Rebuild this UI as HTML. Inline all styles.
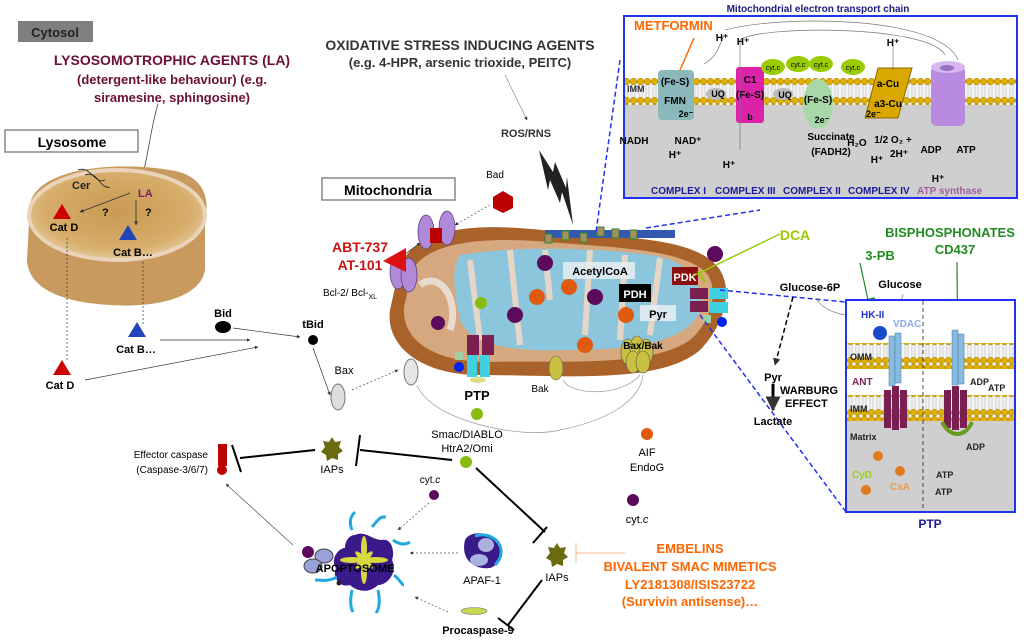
<!DOCTYPE html>
<html><head><meta charset="utf-8"><style>
html,body{margin:0;padding:0;background:#fff;}
svg{display:block;font-family:"Liberation Sans",Arial,sans-serif;}
.b{font-weight:bold;}
</style></head><body>
<svg width="1024" height="640" viewBox="0 0 1024 640" xmlns="http://www.w3.org/2000/svg">
<defs>
<pattern id="lip" x="0" y="0" width="7" height="26" patternUnits="userSpaceOnUse">
<rect width="7" height="26" fill="#f4f4f4"/>
<line x1="2" y1="4" x2="2" y2="22" stroke="#bbb" stroke-width="0.6"/>
<line x1="5" y1="4" x2="5" y2="22" stroke="#bbb" stroke-width="0.6"/>
<circle cx="3.5" cy="3.5" r="3.3" fill="#e0b000" stroke="#a07800" stroke-width="0.5"/>
<circle cx="3.5" cy="22.5" r="3.3" fill="#e0b000" stroke="#a07800" stroke-width="0.5"/>
</pattern>
<radialGradient id="lyso" cx="0.5" cy="0.45" r="0.6"><stop offset="0" stop-color="#c99a52"/><stop offset="0.7" stop-color="#d7ad6a"/><stop offset="1" stop-color="#e8d2a8"/></radialGradient>
<marker id="ar" viewBox="0 0 10 10" refX="9" refY="5" markerWidth="5" markerHeight="5" orient="auto"><path d="M0,0L10,5L0,10z" fill="#333"/></marker>
</defs>

<!-- Cytosol -->
<rect x="18" y="21" width="75" height="21" fill="#7f7f7f"/>
<text x="55" y="37" font-size="13" class="b" fill="#222" text-anchor="middle">Cytosol</text>
<g fill="#6b0f35" class="b" font-size="14" text-anchor="middle">
<text x="172" y="65">LYSOSOMOTROPHIC AGENTS (LA)</text>
<text x="172" y="84" font-size="13">(detergent-like behaviour) (e.g.</text>
<text x="172" y="102" font-size="13">siramesine, sphingosine)</text>
</g>
<path d="M158,104 C150,130 148,160 140,185" stroke="#444" fill="none" stroke-width="0.8" marker-end="url(#ar)"/>

<!-- Lysosome -->
<rect x="5" y="130" width="133" height="22" fill="#fff" stroke="#888" stroke-width="1.5"/>
<text x="72" y="147" font-size="14" class="b" text-anchor="middle">Lysosome</text>
<path d="M30,205 C35,170 110,160 170,170 C205,175 210,200 205,220 L205,270 C200,300 150,308 110,305 C55,302 28,285 27,260 Z" fill="#c89a5e"/>
<ellipse cx="117" cy="215" rx="88" ry="45" fill="url(#lyso)" stroke="#e9d3bb" stroke-width="4"/>
<path d="M78,170 C90,165 95,185 105,180" stroke="#222" fill="none" stroke-width="0.8"/>
<path d="M85,175 C98,170 100,190 110,187" stroke="#222" fill="none" stroke-width="0.8"/>
<text x="72" y="189" font-size="11" class="b" fill="#222">Cer</text>
<text x="138" y="197" font-size="11" class="b" fill="#7b1f6a">LA</text>
<text x="102" y="216" font-size="11" class="b">?</text>
<text x="145" y="216" font-size="11" class="b">?</text>
<line x1="130" y1="193" x2="80" y2="212" stroke="#333" stroke-width="0.8" marker-end="url(#ar)"/>
<line x1="136" y1="200" x2="136" y2="225" stroke="#333" stroke-width="0.8" marker-end="url(#ar)"/>
<polygon points="62,204 53,219 71,219" fill="#cc0000"/>
<text x="64" y="231" font-size="11" class="b" text-anchor="middle">Cat D</text>
<polygon points="128,225 119,240 137,240" fill="#2244bb"/>
<text x="133" y="256" font-size="11" class="b" text-anchor="middle">Cat B…</text>
<line x1="67" y1="238" x2="67" y2="360" stroke="#444" stroke-dasharray="2,2" stroke-width="0.8"/>
<line x1="143" y1="262" x2="143" y2="325" stroke="#444" stroke-dasharray="2,2" stroke-width="0.8"/>
<polygon points="137,322 128,337 146,337" fill="#2244bb"/>
<text x="136" y="353" font-size="11" class="b" text-anchor="middle">Cat B…</text>
<polygon points="62,360 53,375 71,375" fill="#cc0000"/>
<text x="60" y="389" font-size="11" class="b" text-anchor="middle">Cat D</text>
<line x1="160" y1="340" x2="250" y2="340" stroke="#333" stroke-width="0.7" marker-end="url(#ar)"/>
<line x1="85" y1="380" x2="258" y2="347" stroke="#333" stroke-width="0.7" marker-end="url(#ar)"/>
<ellipse cx="223" cy="327" rx="8" ry="6" fill="#000"/>
<text x="223" y="317" font-size="11" class="b" text-anchor="middle">Bid</text>
<line x1="233" y1="328" x2="300" y2="337" stroke="#333" stroke-width="0.7" marker-end="url(#ar)"/>
<circle cx="313" cy="340" r="5" fill="#000"/>
<text x="313" y="328" font-size="11" class="b" text-anchor="middle">tBid</text>
<line x1="313" y1="348" x2="330" y2="395" stroke="#333" stroke-width="0.7" marker-end="url(#ar)"/>
<text x="344" y="374" font-size="11" text-anchor="middle">Bax</text>
<ellipse cx="338" cy="397" rx="7" ry="13" fill="#ddd" stroke="#777"/>
<line x1="352" y1="390" x2="398" y2="370" stroke="#444" stroke-dasharray="2,2" stroke-width="0.7" marker-end="url(#ar)"/>

<!-- Oxidative stress -->
<text x="460" y="50" font-size="14" class="b" fill="#333" text-anchor="middle">OXIDATIVE STRESS  INDUCING AGENTS</text>
<text x="460" y="67" font-size="13" class="b" fill="#333" text-anchor="middle">(e.g. 4-HPR, arsenic trioxide, PEITC)</text>
<line x1="505" y1="75" x2="527" y2="120" stroke="#888" stroke-width="0.7" marker-end="url(#ar)"/>
<text x="526" y="137" font-size="11" class="b" fill="#333" text-anchor="middle">ROS/RNS</text>
<polygon points="539,150 553,172 555,162 566,188 567,177 573,225 562,192 560,203 550,180 548,190" fill="#222"/>

<!-- Mitochondria -->
<rect x="322" y="178" width="133" height="22" fill="#fff" stroke="#888" stroke-width="1.5"/>
<text x="388" y="195" font-size="14" class="b" text-anchor="middle">Mitochondria</text>
<text x="495" y="178" font-size="10" text-anchor="middle">Bad</text>
<polygon points="493,197 503,191 513,197 513,208 503,213 493,208" fill="#bb0000"/>
<line x1="490" y1="205" x2="455" y2="225" stroke="#555" stroke-dasharray="2,2" stroke-width="0.7" marker-end="url(#ar)"/>
<path d="M400,265 C420,225 480,222 560,232 C640,238 700,240 720,270 C735,295 720,330 700,350 C660,385 560,375 480,375 C420,375 385,345 390,310 Z" fill="#a9622a"/>
<path d="M412,270 C430,240 490,236 560,243 C630,248 690,252 708,275 C720,295 708,325 690,340 C650,368 560,360 490,362 C430,362 402,338 404,308 Z" fill="#d6a880"/>
<path d="M460,255 C520,245 600,248 650,255 C690,260 705,285 700,310 C690,340 640,350 570,350 C510,352 470,345 460,320 C455,295 450,270 460,255 Z" fill="#8cc6dc"/>
<path d="M470,260 L480,340 M510,250 L520,345 M545,250 L550,300 M590,250 L585,335 M625,255 L620,340 M660,258 L650,335" stroke="#e6d6c6" stroke-width="6" fill="none"/>
<path d="M420,285 C440,270 460,300 450,330" stroke="#e9dccf" stroke-width="7" fill="none"/>
<rect x="545" y="230" width="130" height="8" fill="#3358b0"/>
<g fill="#aa8c60" stroke="#2a8a2a"><rect x="545" y="234" width="7" height="9"/><rect x="562" y="231" width="7" height="9"/><rect x="580" y="233" width="7" height="9"/><rect x="597" y="227" width="7" height="9"/><rect x="612" y="229" width="7" height="9"/><rect x="630" y="230" width="7" height="9"/></g>
<g><circle cx="545" cy="263" r="8" fill="#5c0a5c"/><circle cx="515" cy="315" r="8" fill="#5c0a5c"/><circle cx="595" cy="297" r="8" fill="#5c0a5c"/><circle cx="438" cy="323" r="7" fill="#5c0a5c"/><circle cx="715" cy="254" r="8" fill="#5c0a5c"/>
<circle cx="537" cy="297" r="8" fill="#e05a10"/><circle cx="569" cy="287" r="8" fill="#e05a10"/><circle cx="626" cy="315" r="8" fill="#e05a10"/><circle cx="585" cy="345" r="8" fill="#e05a10"/>
<circle cx="481" cy="303" r="6" fill="#88bb10"/></g>
<rect x="563" y="262" width="72" height="17" fill="#e8eef2" opacity="0.85"/>
<text x="600" y="275" font-size="11" class="b" text-anchor="middle">AcetylCoA</text>
<rect x="619" y="284" width="32" height="18" fill="#000"/>
<text x="635" y="298" font-size="11" class="b" fill="#fff" text-anchor="middle">PDH</text>
<rect x="640" y="305" width="36" height="16" fill="#e8eef2" opacity="0.85"/>
<text x="658" y="318" font-size="11" class="b" text-anchor="middle">Pyr</text>
<rect x="672" y="267" width="26" height="18" fill="#8b0f0f"/>
<text x="685" y="281" font-size="11" class="b" fill="#fff" text-anchor="middle">PDK</text>
<line x1="693" y1="276" x2="780" y2="234" stroke="#9c0" stroke-width="1.5"/>
<line x1="698" y1="271" x2="705" y2="282" stroke="#9c0" stroke-width="2"/>
<text x="795" y="240" font-size="14" class="b" fill="#99cc00" text-anchor="middle">DCA</text>
<g><rect x="690" y="288" width="18" height="11" fill="#7a2050"/><rect x="690" y="301" width="18" height="11" fill="#7a2050"/><rect x="710" y="288" width="18" height="11" fill="#40d0e0"/><rect x="710" y="302" width="18" height="11" fill="#40d0e0"/><circle cx="722" cy="322" r="5" fill="#0022ee"/><rect x="703" y="315" width="8" height="8" fill="#9fd0a0"/></g>
<g><rect x="467" y="335" width="12" height="20" fill="#7a2050"/><rect x="482" y="335" width="12" height="20" fill="#7a2050"/><rect x="467" y="355" width="10" height="22" fill="#40d0e0"/><rect x="480" y="355" width="10" height="22" fill="#40d0e0"/><circle cx="459" cy="367" r="5" fill="#0022ee"/><rect x="455" y="352" width="8" height="8" fill="#9fd0a0"/><ellipse cx="478" cy="380" rx="8" ry="3" fill="#dd8"/></g>
<text x="477" y="400" font-size="13" class="b" text-anchor="middle">PTP</text>
<ellipse cx="556" cy="368" rx="7" ry="12" fill="#c9c040" stroke="#666" stroke-width="0.6"/>
<text x="540" y="392" font-size="10" text-anchor="middle">Bak</text>
<g fill="#c9c040" stroke="#555" stroke-width="0.6"><ellipse cx="628" cy="352" rx="7" ry="13"/><ellipse cx="637" cy="350" rx="7" ry="14"/><ellipse cx="646" cy="352" rx="7" ry="13"/><ellipse cx="633" cy="362" rx="7" ry="11"/><ellipse cx="643" cy="362" rx="7" ry="11"/></g>
<text x="643" y="349" font-size="10" class="b" text-anchor="middle">Bax/Bak</text>
<ellipse cx="411" cy="372" rx="7" ry="13" fill="#e6e6e6" stroke="#777"/>
<path d="M417,385 C430,420 520,440 560,430 C610,420 640,400 643,375" stroke="#999" fill="none" stroke-width="0.7"/>
<path d="M563,380 C570,395 620,398 640,375" stroke="#999" fill="none" stroke-width="0.7"/>
<!-- Bcl-2 -->
<g fill="#b08ad8" stroke="#553377" stroke-width="0.7"><ellipse cx="426" cy="232" rx="8" ry="17"/><ellipse cx="447" cy="228" rx="8" ry="17"/><ellipse cx="398" cy="272" rx="8" ry="17"/><ellipse cx="409" cy="275" rx="8" ry="17"/></g>
<rect x="430" y="228" width="12" height="15" fill="#bb0000"/>
<polygon points="383,261 406,248 406,272" fill="#dd1111"/>
<line x1="405" y1="254" x2="420" y2="243" stroke="#333" stroke-width="0.7" marker-end="url(#ar)"/>
<text x="360" y="252" font-size="14" class="b" fill="#cc1111" text-anchor="middle">ABT-737</text>
<text x="360" y="270" font-size="14" class="b" fill="#cc1111" text-anchor="middle">AT-101</text>
<text x="350" y="296" font-size="10" text-anchor="middle">Bcl-2/ Bcl-<tspan font-size="7" dy="3">XL</tspan></text>

<!-- ETC box -->
<text x="818" y="12" font-size="10" class="b" fill="#1a1a80" text-anchor="middle">Mitochondrial electron transport chain</text>
<rect x="624" y="16" width="393" height="182" fill="#fff" stroke="#2233ee" stroke-width="2"/>
<rect x="625" y="95" width="391" height="102" fill="#cfcfcf"/>
<rect x="625" y="78" width="391" height="27" fill="url(#lip)"/>
<text x="627" y="92" font-size="9" class="b" fill="#333">IMM</text>
<text x="634" y="30" font-size="13" class="b" fill="#ff6600">METFORMIN</text>
<line x1="694" y1="38" x2="677" y2="77" stroke="#ff6600" stroke-width="1.5"/>
<line x1="670" y1="77" x2="684" y2="77" stroke="#ff6600" stroke-width="2"/>
<rect x="658" y="70" width="36" height="50" rx="4" fill="#8bb8bb"/>
<text x="675" y="85" font-size="10" class="b" text-anchor="middle">(Fe-S)</text>
<text x="675" y="104" font-size="10" class="b" text-anchor="middle">FMN</text>
<text x="686" y="117" font-size="9" class="b" text-anchor="middle">2e⁻</text>
<rect x="736" y="67" width="28" height="56" rx="3" fill="#dd22aa"/>
<text x="750" y="83" font-size="10" class="b" text-anchor="middle">C1</text>
<text x="750" y="98" font-size="10" class="b" text-anchor="middle">(Fe-S)</text>
<text x="750" y="120" font-size="9" class="b" text-anchor="middle">b</text>
<ellipse cx="716" cy="94" rx="10" ry="6" fill="#bbb"/><text x="718" y="97" font-size="9" class="b" text-anchor="middle">UQ</text>
<ellipse cx="783" cy="94" rx="10" ry="6" fill="#bbb"/><text x="785" y="98" font-size="9" class="b" text-anchor="middle">UQ</text>
<ellipse cx="818" cy="104" rx="15" ry="25" fill="#a8d8a8"/>
<text x="818" y="103" font-size="10" class="b" text-anchor="middle">(Fe-S)</text>
<text x="822" y="123" font-size="9" class="b" text-anchor="middle">2e⁻</text>
<g fill="#99cc00"><ellipse cx="773" cy="67" rx="12" ry="8"/><ellipse cx="798" cy="64" rx="12" ry="8"/><ellipse cx="821" cy="64" rx="12" ry="8"/><ellipse cx="853" cy="67" rx="12" ry="8"/></g>
<g font-size="7" text-anchor="middle"><text x="773" y="70">cyt.c</text><text x="798" y="67">cyt.c</text><text x="821" y="67">cyt.c</text><text x="853" y="70">cyt.c</text></g>
<polygon points="878,68 912,68 898,118 865,118" fill="#d8a800" stroke="#8a6a00"/>
<text x="888" y="87" font-size="10" class="b" text-anchor="middle">a-Cu</text>
<text x="888" y="107" font-size="10" class="b" text-anchor="middle">a3-Cu</text>
<text x="866" y="117" font-size="9" class="b">2e⁻</text>
<rect x="931" y="66" width="34" height="60" rx="5" fill="#b98be0"/>
<ellipse cx="948" cy="67" rx="17" ry="6" fill="#d6b8f0"/>
<ellipse cx="947" cy="68" rx="7" ry="3" fill="#9a70c0"/>
<path d="M704,64 C720,55 720,40 724,36 M740,150 L740,40 C760,25 930,25 945,55 M725,30 C780,15 940,15 958,60 M893,45 L893,70" stroke="#777" fill="none" stroke-width="0.7"/>
<g font-size="10" class="b" text-anchor="middle"><text x="722" y="41">H⁺</text><text x="743" y="45">H⁺</text><text x="893" y="46">H⁺</text>
<text x="634" y="144">NADH</text><text x="688" y="144">NAD⁺</text><text x="675" y="158">H⁺</text><text x="729" y="168">H⁺</text>
<text x="831" y="140">Succinate</text><text x="831" y="155">(FADH2)</text><text x="857" y="146">H₂O</text><text x="893" y="143">1/2 O₂ +</text><text x="899" y="157">2H⁺</text><text x="877" y="163">H⁺</text>
<text x="931" y="153">ADP</text><text x="966" y="153">ATP</text><text x="938" y="182">H⁺</text></g>
<g font-size="10" class="b" fill="#1a1a99"><text x="651" y="194">COMPLEX I</text><text x="715" y="194">COMPLEX III</text><text x="783" y="194">COMPLEX II</text><text x="848" y="194">COMPLEX IV</text><text x="917" y="194" fill="#a060a0">ATP synthase</text></g>
<!-- zoom lines -->
<line x1="620" y1="60" x2="596" y2="232" stroke="#2233ee" stroke-dasharray="5,3" stroke-width="1.5"/>
<line x1="646" y1="228" x2="760" y2="210" stroke="#2233ee" stroke-dasharray="5,3" stroke-width="1.5"/>
<line x1="720" y1="290" x2="846" y2="302" stroke="#2233ee" stroke-dasharray="5,3" stroke-width="1.5"/>
<line x1="700" y1="315" x2="846" y2="512" stroke="#2233ee" stroke-dasharray="5,3" stroke-width="1.5"/>

<!-- right side -->
<text x="950" y="237" font-size="13" class="b" fill="#228b22" text-anchor="middle">BISPHOSPHONATES</text>
<text x="955" y="254" font-size="13" class="b" fill="#228b22" text-anchor="middle">CD437</text>
<text x="880" y="260" font-size="13" class="b" fill="#228b22" text-anchor="middle">3-PB</text>
<line x1="860" y1="263" x2="868" y2="300" stroke="#228b22" stroke-width="1.2"/>
<line x1="861" y1="301" x2="875" y2="298" stroke="#228b22" stroke-width="1.5"/>
<line x1="957" y1="262" x2="958" y2="382" stroke="#228b22" stroke-width="1.2"/>
<text x="810" y="291" font-size="11" class="b" text-anchor="middle">Glucose-6P</text>
<text x="900" y="288" font-size="11" class="b" text-anchor="middle">Glucose</text>
<path d="M816,298 C830,325 900,320 903,294" stroke="#777" fill="none" stroke-width="0.7"/>
<line x1="793" y1="297" x2="775" y2="365" stroke="#000" stroke-dasharray="5,3" stroke-width="1.5" marker-end="url(#ar)"/>
<text x="773" y="381" font-size="11" class="b" text-anchor="middle">Pyr</text>
<line x1="773" y1="384" x2="773" y2="410" stroke="#000" stroke-width="3" marker-end="url(#ar)"/>
<text x="780" y="394" font-size="11" class="b">WARBURG</text>
<text x="785" y="407" font-size="11" class="b">EFFECT</text>
<text x="773" y="425" font-size="11" class="b" text-anchor="middle">Lactate</text>
<!-- PTP box -->
<rect x="846" y="300" width="169" height="212" fill="#fff" stroke="#2233ee" stroke-width="2"/>
<rect x="847" y="420" width="167" height="91" fill="#cfcfcf"/>
<rect x="847" y="343" width="167" height="26" fill="url(#lip)"/>
<rect x="847" y="395" width="167" height="26" fill="url(#lip)"/>
<line x1="923" y1="301" x2="923" y2="511" stroke="#222" stroke-dasharray="4,3" stroke-width="0.8"/>
<text x="861" y="318" font-size="10" class="b" fill="#2233cc">HK-II</text>
<text x="893" y="327" font-size="10" class="b" fill="#88aaee">VDAC</text>
<circle cx="880" cy="333" r="7" fill="#1a4acc"/>
<g fill="#88bbe0" stroke="#4a7aa0" stroke-width="0.5"><rect x="889" y="336" width="6" height="50"/><rect x="895" y="333" width="6" height="50"/><rect x="952" y="330" width="6" height="55"/><rect x="958" y="334" width="6" height="50"/></g>
<g fill="#7a2050"><rect x="884" y="390" width="7" height="38"/><rect x="892" y="386" width="7" height="44"/><rect x="900" y="390" width="7" height="38"/><rect x="944" y="390" width="7" height="38"/><rect x="952" y="386" width="7" height="44"/><rect x="960" y="390" width="7" height="38"/></g>
<path d="M942,422 C950,438 965,438 972,422" stroke="#6a9a20" stroke-width="4" fill="none"/>
<g font-size="9" class="b" fill="#222"><text x="850" y="360">OMM</text><text x="850" y="412">IMM</text><text x="850" y="440">Matrix</text>
<text x="970" y="385">ADP</text><text x="988" y="391">ATP</text><text x="966" y="450">ADP</text><text x="936" y="478">ATP</text><text x="935" y="495">ATP</text></g>
<text x="852" y="385" font-size="10" class="b" fill="#7a2050">ANT</text>
<text x="852" y="478" font-size="10" class="b" fill="#99cc22">CyD</text>
<text x="890" y="490" font-size="10" class="b" fill="#ee9944">CsA</text>
<g fill="#e07a20"><circle cx="878" cy="456" r="5"/><circle cx="900" cy="471" r="5"/><circle cx="866" cy="490" r="5"/></g>
<text x="930" y="528" font-size="12" class="b" fill="#1a1a99" text-anchor="middle">PTP</text>

<!-- bottom -->
<circle cx="647" cy="434" r="6" fill="#e05a10"/>
<text x="647" y="456" font-size="11" text-anchor="middle">AIF</text>
<text x="647" y="471" font-size="11" text-anchor="middle">EndoG</text>
<circle cx="633" cy="500" r="6" fill="#5c0a5c"/>
<text x="637" y="523" font-size="11" text-anchor="middle">cyt.<tspan font-style="italic">c</tspan></text>
<circle cx="477" cy="414" r="6" fill="#88bb10"/>
<text x="467" y="438" font-size="11" text-anchor="middle">Smac/DIABLO</text>
<text x="467" y="452" font-size="11" text-anchor="middle">HtrA2/Omi</text>
<circle cx="466" cy="462" r="6" fill="#88bb10"/>
<line x1="452" y1="460" x2="360" y2="450" stroke="#000" stroke-width="2"/>
<line x1="360" y1="435" x2="356" y2="466" stroke="#000" stroke-width="2"/>
<polygon points="332,437 335,442 341,441 339,447 343,451 338,454 338,460 332,458 327,461 326,455 321,452 325,447 323,441 329,442" fill="#6b6b10"/>
<text x="332" y="473" font-size="11" text-anchor="middle">IAPs</text>
<line x1="315" y1="450" x2="240" y2="458" stroke="#000" stroke-width="2"/>
<line x1="232" y1="445" x2="241" y2="472" stroke="#000" stroke-width="2"/>
<rect x="218" y="444" width="9" height="22" fill="#bb0000"/><circle cx="222" cy="470" r="5" fill="#bb0000"/>
<text x="208" y="458" font-size="10" text-anchor="end">Effector caspase</text>
<text x="208" y="473" font-size="10" text-anchor="end">(Caspase-3/6/7)</text>
<line x1="293" y1="545" x2="226" y2="484" stroke="#555" stroke-width="0.7" marker-end="url(#ar)"/>
<line x1="476" y1="468" x2="545" y2="532" stroke="#000" stroke-width="2"/>
<line x1="533" y1="543" x2="547" y2="527" stroke="#000" stroke-width="2"/>
<circle cx="434" cy="495" r="5" fill="#5c0a5c"/>
<text x="430" y="483" font-size="10" text-anchor="middle">cyt.<tspan font-style="italic">c</tspan></text>
<line x1="429" y1="503" x2="398" y2="530" stroke="#555" stroke-dasharray="2,2" stroke-width="0.7" marker-end="url(#ar)"/>
<!-- apoptosome -->
<path d="M355,535 C365,530 372,540 382,540 C392,538 395,552 392,560 C398,572 388,585 378,585 C368,595 355,590 350,585 C340,588 332,578 336,568 C330,560 338,548 345,548 C345,540 350,535 355,535 Z" fill="#3a1a8a"/>
<g fill="#d8d840"><ellipse cx="364" cy="548" rx="3" ry="12"/><ellipse cx="364" cy="572" rx="3" ry="12"/><ellipse cx="352" cy="560" rx="12" ry="3"/><ellipse cx="376" cy="560" rx="12" ry="3"/><ellipse cx="364" cy="560" rx="3" ry="12" transform="rotate(45 364 560)"/><ellipse cx="364" cy="560" rx="3" ry="12" transform="rotate(-45 364 560)"/></g>
<g stroke="#22a8e0" stroke-width="3" fill="none"><path d="M352,530 C348,520 352,515 355,512"/><path d="M372,527 C378,520 380,516 386,517"/><path d="M393,540 C400,545 405,545 410,542"/><path d="M394,575 C400,580 402,585 404,585"/><path d="M378,590 C380,600 380,608 376,613"/><path d="M352,590 C350,600 350,607 353,612"/><path d="M337,577 C328,582 320,580 315,580"/></g>
<circle cx="308" cy="552" r="6" fill="#5c0a5c"/>
<ellipse cx="324" cy="556" rx="9" ry="7" fill="#9aa0d8" stroke="#444"/>
<ellipse cx="313" cy="566" rx="9" ry="7" fill="#9aa0d8" stroke="#444"/>
<circle cx="339" cy="583" r="2.5" fill="#222"/>
<text x="355" y="572" font-size="11" class="b" text-anchor="middle">APOPTOSOME</text>
<line x1="458" y1="553" x2="410" y2="553" stroke="#555" stroke-dasharray="2,2" stroke-width="0.7" marker-end="url(#ar)"/>
<path d="M465,540 C470,530 490,532 497,540 C505,552 500,565 490,568 C475,570 460,560 465,540 Z" fill="#3a1a8a"/>
<path d="M475,536 C495,530 510,550 495,565" stroke="#22a8e0" stroke-width="3" fill="none"/>
<ellipse cx="486" cy="545" rx="8" ry="7" fill="#aab0e0"/><ellipse cx="479" cy="560" rx="9" ry="6" fill="#aab0e0"/>
<text x="482" y="584" font-size="11" text-anchor="middle">APAF-1</text>
<line x1="448" y1="612" x2="415" y2="597" stroke="#555" stroke-dasharray="2,2" stroke-width="0.7" marker-end="url(#ar)"/>
<ellipse cx="474" cy="611" rx="13" ry="3.5" fill="#c8d850" stroke="#777" stroke-width="0.6"/>
<text x="478" y="634" font-size="11" class="b" text-anchor="middle">Procaspase-9</text>
<polygon points="557,543 560,548 566,547 564,553 568,557 563,560 563,566 557,564 552,567 551,561 546,558 550,553 548,547 554,548" fill="#6b6b10"/>
<text x="557" y="581" font-size="11" text-anchor="middle">IAPs</text>
<line x1="542" y1="580" x2="508" y2="625" stroke="#000" stroke-width="2"/>
<line x1="498" y1="618" x2="514" y2="630" stroke="#000" stroke-width="2"/>
<line x1="576" y1="553" x2="625" y2="553" stroke="#fbb58a" stroke-width="1"/>
<line x1="576" y1="543" x2="576" y2="563" stroke="#fbb58a" stroke-width="1"/>
<g font-size="13" class="b" fill="#ff6600" text-anchor="middle"><text x="690" y="553">EMBELINS</text><text x="690" y="571">BIVALENT SMAC MIMETICS</text><text x="690" y="589">LY2181308/ISIS23722</text><text x="690" y="606">(Survivin antisense)…</text></g>
</svg>
</body></html>
